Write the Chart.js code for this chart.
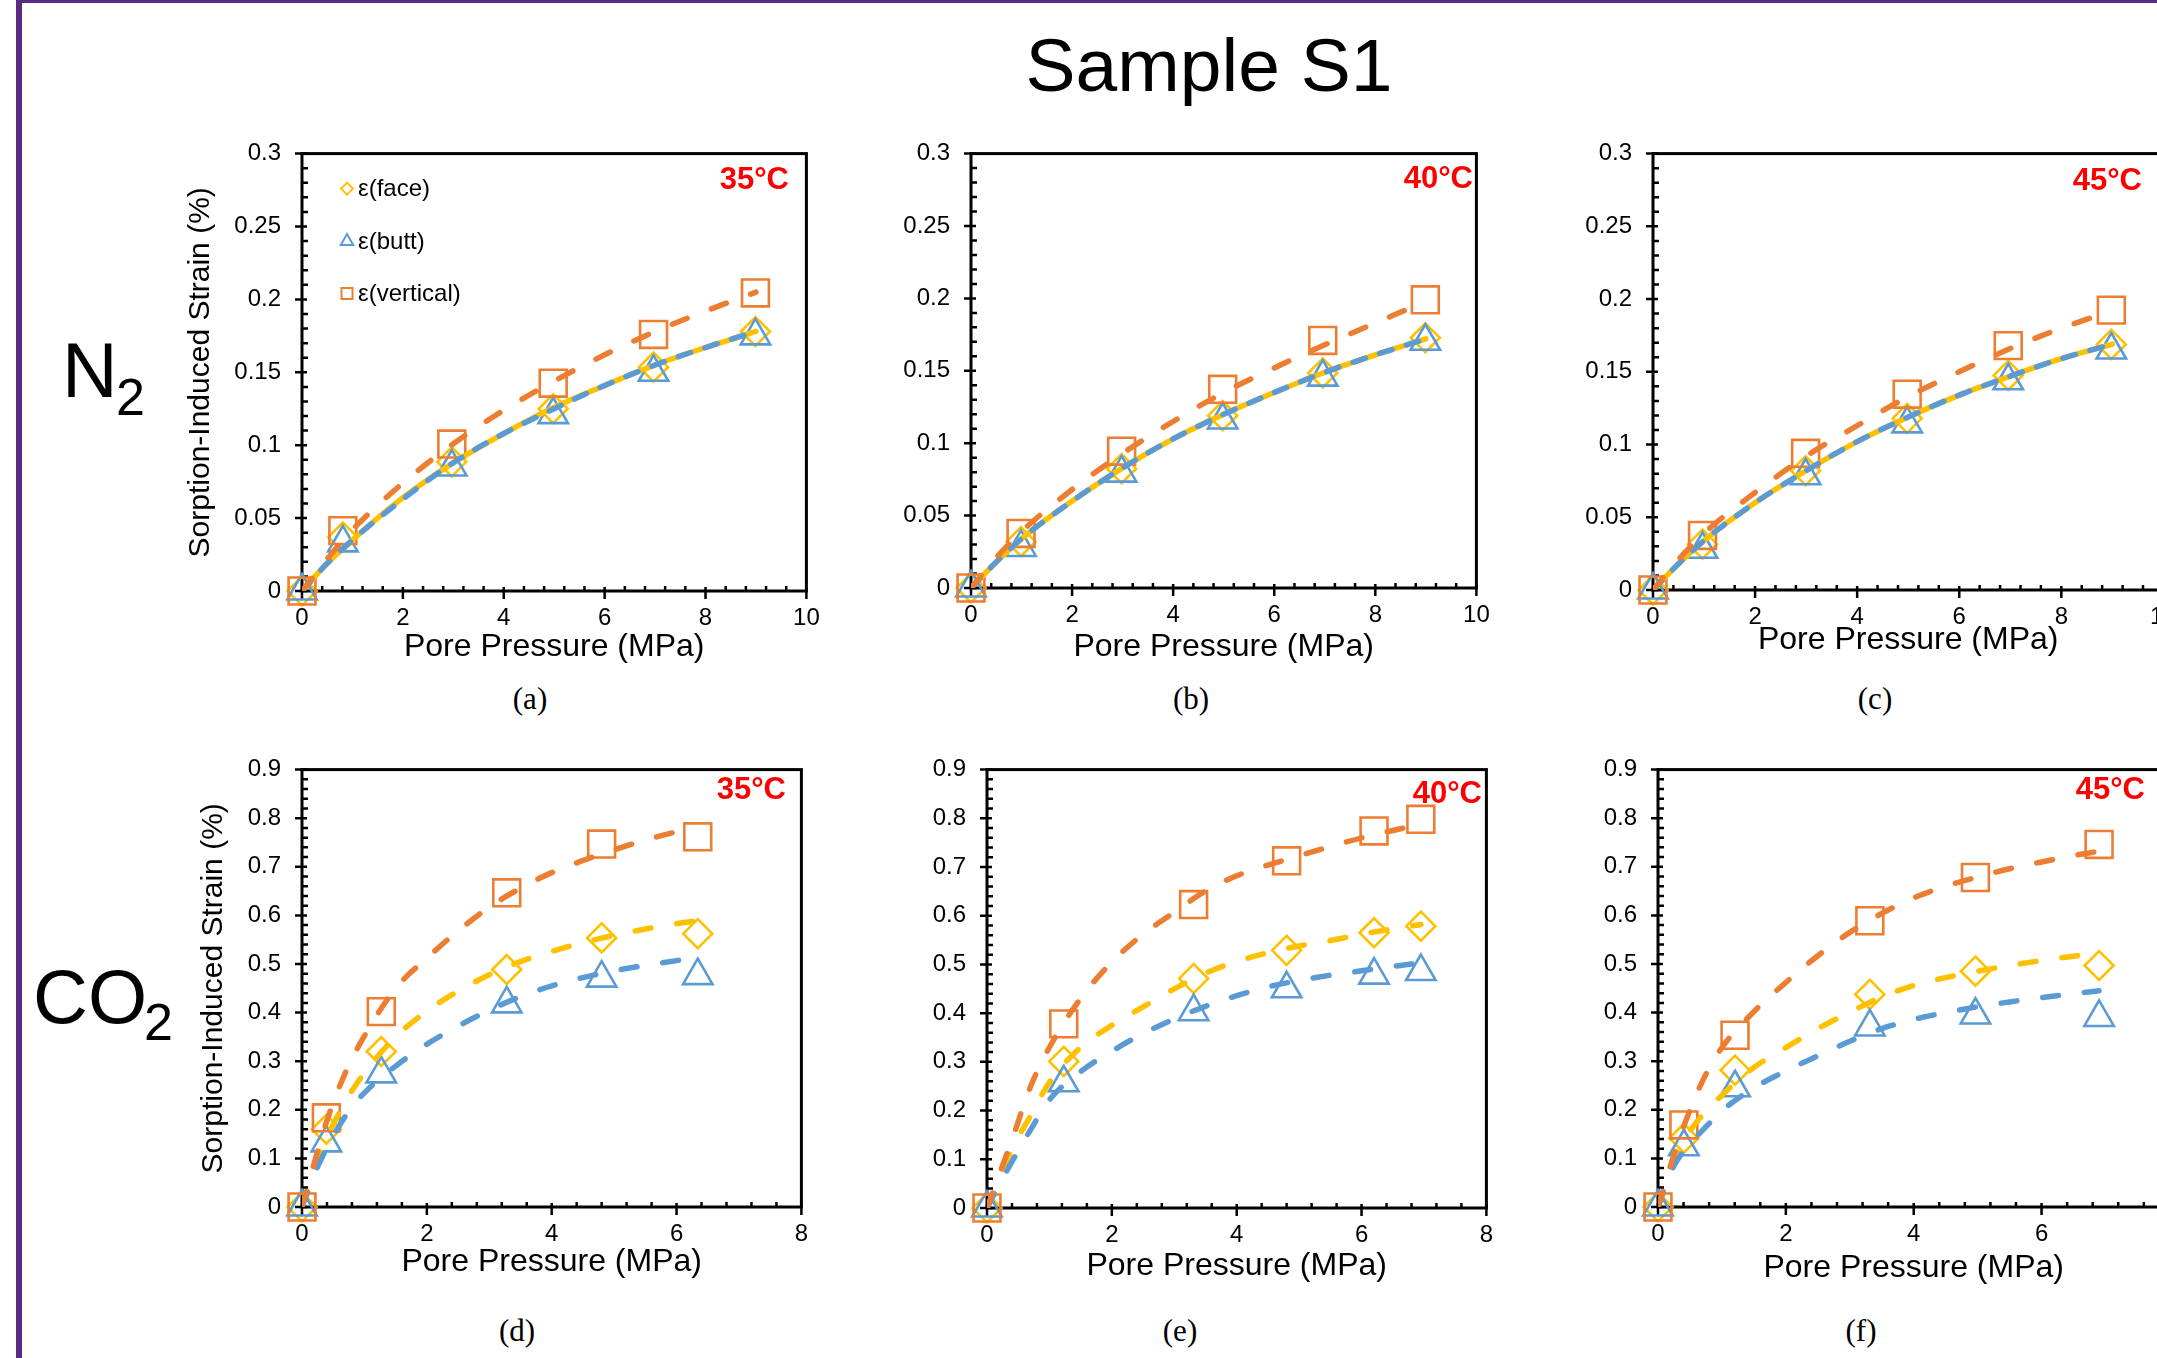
<!DOCTYPE html>
<html>
<head>
<meta charset="utf-8">
<title>Sample S1</title>
<script src="https://cdn.jsdelivr.net/npm/chart.js@4.4.1/dist/chart.umd.min.js"></script>
<style>
  html, body { margin: 0; padding: 0; background: #fff; }
  body { position: relative; width: 2157px; height: 1358px; overflow: hidden; }
  canvas { position: absolute; }
  .lbl { position: absolute; white-space: nowrap; line-height: 1; color: #000;
         font-family: 'Liberation Sans', Arial, sans-serif; }
  .cap { font-family: 'Liberation Serif', 'Times New Roman', serif; font-size: 31px; transform: translateX(-50%); }
  .temp { font-weight: bold; font-size: 31px; color: #f00; transform: translateX(-100%); }
  #barL { position: absolute; left: 16px; top: 0; width: 6px; height: 1358px; background: #592c82; }
  #barT { position: absolute; left: 16px; top: 0; width: 2141px; height: 3px; background: #592c82; }
</style>
</head>
<body>
<div id="barL"></div><div id="barT"></div>
<div id="charts"></div>

<div class="lbl" style="left:1209px; top:28px; font-size:75px; transform:translateX(-50%)">Sample S1</div>
<div class="lbl" style="left:62px; top:332px; font-size:77px">N</div>
<div class="lbl" style="left:116px; top:371px; font-size:52px">2</div>
<div class="lbl" style="left:33px; top:959px; font-size:76px">CO</div>
<div class="lbl" style="left:144px; top:996px; font-size:52px">2</div>

<div class="lbl cap" style="left:530px; top:683px">(a)</div>
<div class="lbl cap" style="left:1191px; top:683px">(b)</div>
<div class="lbl cap" style="left:1875px; top:683px">(c)</div>
<div class="lbl cap" style="left:517px; top:1315px">(d)</div>
<div class="lbl cap" style="left:1180px; top:1315px">(e)</div>
<div class="lbl cap" style="left:1861px; top:1315px">(f)</div>

<div class="lbl temp" style="left:789px; top:163px">35°C</div>
<div class="lbl temp" style="left:1473px; top:162px">40°C</div>
<div class="lbl temp" style="left:2142px; top:164px">45°C</div>
<div class="lbl temp" style="left:786px; top:773px">35°C</div>
<div class="lbl temp" style="left:1482px; top:777px">40°C</div>
<div class="lbl temp" style="left:2145px; top:773px">45°C</div>

<script>
// N2, 35 °C
const pressN2_35 = [0, 0.81, 2.97, 4.98, 6.97, 8.99];
const faceN2_35 = [0, 0.037, 0.0886, 0.125, 0.1535, 0.178];
const buttN2_35 = [0, 0.033, 0.085, 0.121, 0.150, 0.175];
const vertN2_35 = [0, 0.0414, 0.1008, 0.1425, 0.176, 0.2044];
// N2, 40 °C
const pressN2_40 = [0, 0.99, 2.98, 4.98, 6.96, 8.99];
const faceN2_40 = [0, 0.032, 0.0824, 0.119, 0.1485, 0.1728];
const buttN2_40 = [0, 0.028, 0.0793, 0.116, 0.1456, 0.1704];
const vertN2_40 = [0, 0.0377, 0.0945, 0.1372, 0.171, 0.199];
// N2, 45 °C
const pressN2_45 = [0, 0.97, 2.99, 4.98, 6.96, 8.98];
const faceN2_45 = [0, 0.0315, 0.082, 0.118, 0.1475, 0.1688];
const buttN2_45 = [0, 0.028, 0.0785, 0.1142, 0.1438, 0.165];
const vertN2_45 = [0, 0.0375, 0.094, 0.1346, 0.168, 0.1924];

// N2 fitted curves
const fitPressN2 = [0, 0.5, 1, 2, 3, 4, 5, 6, 7, 8, 9];
const fitFaceN2_35 = [0, 0.019, 0.035, 0.064, 0.088, 0.108, 0.126, 0.141, 0.155, 0.167, 0.178];
const fitButtN2_35 = [0, 0.019, 0.035, 0.063, 0.088, 0.108, 0.125, 0.141, 0.155, 0.167, 0.178];
const fitVertN2_35 = [0, 0.022, 0.042, 0.074, 0.101, 0.124, 0.144, 0.162, 0.178, 0.192, 0.205];
const fitFaceN2_40 = [0, 0.018, 0.034, 0.060, 0.083, 0.103, 0.120, 0.135, 0.149, 0.161, 0.172];
const fitButtN2_40 = [0, 0.018, 0.034, 0.060, 0.083, 0.103, 0.120, 0.135, 0.149, 0.161, 0.172];
const fitVertN2_40 = [0, 0.021, 0.039, 0.068, 0.093, 0.115, 0.135, 0.152, 0.168, 0.183, 0.198];
const fitFaceN2_45 = [0, 0.018, 0.034, 0.060, 0.082, 0.102, 0.119, 0.134, 0.147, 0.159, 0.169];
const fitButtN2_45 = [0, 0.018, 0.034, 0.060, 0.082, 0.102, 0.119, 0.134, 0.147, 0.159, 0.169];
const fitVertN2_45 = [0, 0.021, 0.039, 0.067, 0.092, 0.113, 0.133, 0.150, 0.166, 0.180, 0.192];

// CO2, 35 °C
const pressCO2_35 = [0, 0.39, 1.27, 3.28, 4.80, 6.34];
const faceCO2_35 = [0, 0.160, 0.320, 0.4887, 0.5536, 0.5625];
const buttCO2_35 = [0, 0.132, 0.274, 0.418, 0.471, 0.476];
const vertCO2_35 = [0, 0.1836, 0.402, 0.6464, 0.7468, 0.7618];
const fitPressCO2_35 = [0, 0.2, 0.4, 0.7, 1, 1.5, 2, 2.5, 3, 3.5, 4, 4.5, 5, 5.5, 6, 6.33];
const fitFaceCO2_35 = [0, 0.08, 0.143, 0.218, 0.276, 0.35, 0.403, 0.444, 0.478, 0.505, 0.526, 0.544, 0.559, 0.572, 0.583, 0.589];
const fitButtCO2_35 = [0, 0.068, 0.122, 0.188, 0.235, 0.29, 0.335, 0.372, 0.405, 0.433, 0.455, 0.472, 0.486, 0.497, 0.507, 0.514];
const fitVertCO2_35 = [0, 0.092, 0.178, 0.278, 0.352, 0.45, 0.512, 0.568, 0.617, 0.656, 0.688, 0.713, 0.735, 0.755, 0.772, 0.782];

// CO2, 40 °C
const pressCO2_40 = [0, 1.23, 3.31, 4.80, 6.20, 6.95];
const faceCO2_40 = [0, 0.301, 0.471, 0.529, 0.565, 0.5786];
const buttCO2_40 = [0, 0.257, 0.403, 0.45, 0.478, 0.4854];
const vertCO2_40 = [0, 0.378, 0.623, 0.7127, 0.774, 0.798];
const fitPressCO2_40 = [0, 0.2, 0.4, 0.7, 1, 1.5, 2, 2.5, 3, 3.5, 4, 4.5, 5, 5.5, 6, 6.5, 6.95];
const fitFaceCO2_40 = [0, 0.06, 0.12, 0.19, 0.258, 0.33, 0.375, 0.413, 0.45, 0.482, 0.506, 0.524, 0.538, 0.549, 0.562, 0.573, 0.582];
const fitButtCO2_40 = [0, 0.05, 0.095, 0.161, 0.222, 0.28, 0.322, 0.358, 0.388, 0.414, 0.436, 0.454, 0.467, 0.478, 0.487, 0.496, 0.503];
const fitVertCO2_40 = [0, 0.07, 0.14, 0.25, 0.33, 0.43, 0.505, 0.562, 0.607, 0.651, 0.682, 0.704, 0.723, 0.742, 0.76, 0.775, 0.788];

// CO2, 45 °C
const pressCO2_45 = [0, 0.405, 1.205, 3.314, 4.966, 6.90];
const faceCO2_45 = [0, 0.1415, 0.2816, 0.4375, 0.4853, 0.4969];
const buttCO2_45 = [0, 0.124, 0.2454, 0.3705, 0.395, 0.390];
const vertCO2_45 = [0, 0.1688, 0.3534, 0.589, 0.678, 0.746];
const fitPressCO2_45 = [0, 0.2, 0.4, 0.7, 1, 1.5, 2, 2.5, 3, 3.5, 4, 4.5, 5, 5.5, 6, 6.5, 6.9];
const fitFaceCO2_45 = [0, 0.075, 0.135, 0.19, 0.23, 0.287, 0.328, 0.367, 0.401, 0.432, 0.456, 0.472, 0.485, 0.497, 0.507, 0.516, 0.522];
const fitButtCO2_45 = [0, 0.072, 0.115, 0.158, 0.198, 0.245, 0.28, 0.311, 0.341, 0.367, 0.386, 0.4, 0.412, 0.422, 0.431, 0.439, 0.445];
const fitVertCO2_45 = [0, 0.087, 0.165, 0.26, 0.328, 0.402, 0.462, 0.517, 0.565, 0.604, 0.636, 0.66, 0.679, 0.696, 0.71, 0.723, 0.732];

const ORANGE = '#ED7D31';
const BLUE = '#5B9BD5';
const GOLD = '#FFC000';

Chart.defaults.font.family = "'Liberation Sans', Arial, sans-serif";
Chart.defaults.color = '#000';

// Excel style box: crossing major ticks, inside minor ticks (minor = major / 5)
const axisFrame = {
    id: 'axisFrame',
    beforeDatasetsDraw(chart, args, opts) {
        const { ctx, chartArea: a } = chart;
        const x = chart.scales.x, y = chart.scales.y;
        ctx.save();
        ctx.strokeStyle = '#000';
        ctx.lineWidth = 2.5;
        ctx.beginPath();
        const nx = Math.round((x.max - x.min) / opts.xMinor);
        for (let i = 0; i <= nx; i++) {
            const px = x.getPixelForValue(x.min + i * opts.xMinor);
            if (i % 5 === 0) { ctx.moveTo(px, a.bottom - 4); ctx.lineTo(px, a.bottom + 8); }
            else { ctx.moveTo(px, a.bottom); ctx.lineTo(px, a.bottom - 5); }
        }
        const ny = Math.round((y.max - y.min) / opts.yMinor);
        for (let i = 0; i <= ny; i++) {
            const py = y.getPixelForValue(y.min + i * opts.yMinor);
            if (i % 5 === 0) { ctx.moveTo(a.left - 7, py); ctx.lineTo(a.left + 5, py); }
            else { ctx.moveTo(a.left, py); ctx.lineTo(a.left + 6, py); }
        }
        ctx.stroke();
        ctx.lineWidth = 3;
        ctx.strokeRect(a.left, a.top, a.right - a.left, a.bottom - a.top);
        ctx.restore();
    }
};

// small legend in the top-left corner of the plot
const innerLegend = {
    id: 'innerLegend',
    afterDatasetsDraw(chart, args, opts) {
        if (!opts.show) return;
        const { ctx, chartArea: a } = chart;
        const rows = chart.data.datasets
            .filter(d => d.legendRow !== undefined)
            .sort((p, q) => p.legendRow - q.legendRow);
        ctx.save();
        ctx.font = "24px 'Liberation Sans', Arial, sans-serif";
        ctx.textBaseline = 'middle';
        ctx.lineWidth = 2;
        rows.forEach((d, i) => {
            const cx = a.left + 45, cy = a.top + 35 + i * 52.5;
            ctx.strokeStyle = d.borderColor;
            ctx.beginPath();
            if (d.pointStyle === 'rectRot') {
                ctx.moveTo(cx - 6, cy); ctx.lineTo(cx, cy - 6); ctx.lineTo(cx + 6, cy); ctx.lineTo(cx, cy + 6);
                ctx.closePath();
            } else if (d.pointStyle === 'triangle') {
                ctx.moveTo(cx, cy - 7); ctx.lineTo(cx + 6.2, cy + 4); ctx.lineTo(cx - 6.2, cy + 4);
                ctx.closePath();
            } else {
                ctx.rect(cx - 5.5, cy - 5.5, 11, 11);
            }
            ctx.stroke();
            ctx.fillStyle = '#000';
            ctx.fillText(d.label, a.left + 56, cy + 1);
        });
        ctx.restore();
    }
};

Chart.register(axisFrame, innerLegend);

const panels = [
    { box: [302, 152, 808, 591], xMax: 10, yMax: 0.3, yStep: 0.05, yMinor: 0.01, n2: true,
      yTitlePad: 21, xDrop: 56, legend: true,
      press: pressN2_35, face: faceN2_35, butt: buttN2_35, vert: vertN2_35,
      fitP: fitPressN2, fitFace: fitFaceN2_35, fitButt: fitButtN2_35, fitVert: fitVertN2_35 },
    { box: [971, 152, 1478, 588], xMax: 10, yMax: 0.3, yStep: 0.05, yMinor: 0.01, n2: true,
      yTitlePad: null, xDrop: 59,
      press: pressN2_40, face: faceN2_40, butt: buttN2_40, vert: vertN2_40,
      fitP: fitPressN2, fitFace: fitFaceN2_40, fitButt: fitButtN2_40, fitVert: fitVertN2_40 },
    { box: [1653, 152, 2165, 590], xMax: 10, yMax: 0.3, yStep: 0.05, yMinor: 0.01, n2: true,
      yTitlePad: null, xDrop: 50,
      press: pressN2_45, face: faceN2_45, butt: buttN2_45, vert: vertN2_45,
      fitP: fitPressN2, fitFace: fitFaceN2_45, fitButt: fitButtN2_45, fitVert: fitVertN2_45 },
    { box: [302, 768, 803, 1207], xMax: 8, yMax: 0.9, yStep: 0.1, yMinor: 0.02, n2: false,
      yTitlePad: 34, xDrop: 55,
      press: pressCO2_35, face: faceCO2_35, butt: buttCO2_35, vert: vertCO2_35,
      fitP: fitPressCO2_35, fitFace: fitFaceCO2_35, fitButt: fitButtCO2_35, fitVert: fitVertCO2_35 },
    { box: [987, 768, 1488, 1208], xMax: 8, yMax: 0.9, yStep: 0.1, yMinor: 0.02, n2: false,
      yTitlePad: null, xDrop: 58,
      press: pressCO2_40, face: faceCO2_40, butt: buttCO2_40, vert: vertCO2_40,
      fitP: fitPressCO2_40, fitFace: fitFaceCO2_40, fitButt: fitButtCO2_40, fitVert: fitVertCO2_40 },
    { box: [1658, 768, 2171, 1207], xMax: 8, yMax: 0.9, yStep: 0.1, yMinor: 0.02, n2: false,
      yTitlePad: null, xDrop: 61,
      press: pressCO2_45, face: faceCO2_45, butt: buttCO2_45, vert: vertCO2_45,
      fitP: fitPressCO2_45, fitFace: fitFaceCO2_45, fitButt: fitButtCO2_45, fitVert: fitVertCO2_45 }
];

function pts(xs, ys) {
    return xs.map((v, i) => ({ x: v, y: ys[i] }));
}

function fitLine(data, color, order, dash) {
    return {
        label: '', data, showLine: true, fill: false, order,
        borderColor: color, borderWidth: 5.5, borderDash: dash, borderCapStyle: 'round',
        pointRadius: 0, pointHoverRadius: 0, pointHitRadius: 0,
        cubicInterpolationMode: 'monotone'
    };
}

function markers(label, data, style, radius, color, order, row) {
    return {
        label, data, order, legendRow: row,
        pointStyle: style, pointRadius: radius, pointHoverRadius: radius,
        borderColor: color, pointBorderColor: color, borderWidth: 2.6, pointBorderWidth: 2.6,
        backgroundColor: 'rgba(0,0,0,0)', pointBackgroundColor: 'rgba(0,0,0,0)',
        showLine: false, clip: false
    };
}

// fixed axis sizes, and no extra room for half labels at the ends
function fixBox(size, horizontal) {
    return s => {
        if (horizontal) s.height = size; else s.width = size;
        s.paddingTop = 0; s.paddingBottom = 0; s.paddingLeft = 0; s.paddingRight = 0;
    };
}

const holder = document.getElementById('charts');
const dash = [16, 26];

panels.forEach(p => {
    const [L, T, R, B] = p.box;
    const cv = document.createElement('canvas');
    cv.width = R - L + 160;
    cv.height = B - T + 110;
    cv.style.left = (L - 140) + 'px';
    cv.style.top = (T - 20) + 'px';
    holder.appendChild(cv);

    new Chart(cv, {
        type: 'scatter',
        data: {
            datasets: [
                fitLine(pts(p.fitP, p.fitVert), ORANGE, 0, dash),
                fitLine(pts(p.fitP, p.fitButt), BLUE, 1, p.n2 ? [13, 15] : dash),
                fitLine(pts(p.fitP, p.fitFace), GOLD, 2, p.n2 ? [] : dash),
                markers('ε(vertical)', pts(p.press, p.vert), 'rect', 19, ORANGE, 3, 2),
                markers('ε(butt)', pts(p.press, p.butt), 'triangle', 17, BLUE, 4, 1),
                markers('ε(face)', pts(p.press, p.face), 'rectRot', 14.5, GOLD, 5, 0)
            ]
        },
        options: {
            responsive: false,
            animation: false,
            events: [],
            layout: { padding: { left: 0, top: 20, right: 20, bottom: 0 } },
            plugins: {
                legend: { display: false },
                tooltip: { enabled: false },
                axisFrame: { xMinor: 0.4, yMinor: p.yMinor },
                innerLegend: { show: !!p.legend }
            },
            scales: {
                x: {
                    type: 'linear', min: 0, max: p.xMax,
                    afterFit: fixBox(90, true),
                    grid: { display: false, drawTicks: false },
                    border: { display: false },
                    ticks: {
                        stepSize: 2, padding: 13, autoSkip: false, maxRotation: 0,
                        color: '#000', font: { size: 24 },
                        callback: v => String(v)
                    },
                    title: {
                        display: true, text: 'Pore Pressure (MPa)', color: '#000',
                        font: { size: 32 },
                        padding: { top: 0, bottom: 90 - p.xDrop - 19.2 }
                    }
                },
                y: {
                    type: 'linear', min: 0, max: p.yMax,
                    afterFit: fixBox(140, false),
                    grid: { display: false, drawTicks: false },
                    border: { display: false },
                    ticks: {
                        stepSize: p.yStep, padding: 21, autoSkip: false,
                        color: '#000', font: { size: 24 },
                        callback: v => String(+v.toFixed(3))
                    },
                    title: {
                        display: p.yTitlePad !== null, text: 'Sorption-Induced Strain (%)', color: '#000',
                        font: { size: 30 },
                        padding: { top: p.yTitlePad || 0, bottom: 0 }
                    }
                }
            }
        }
    });
});
</script>
</body>
</html>
